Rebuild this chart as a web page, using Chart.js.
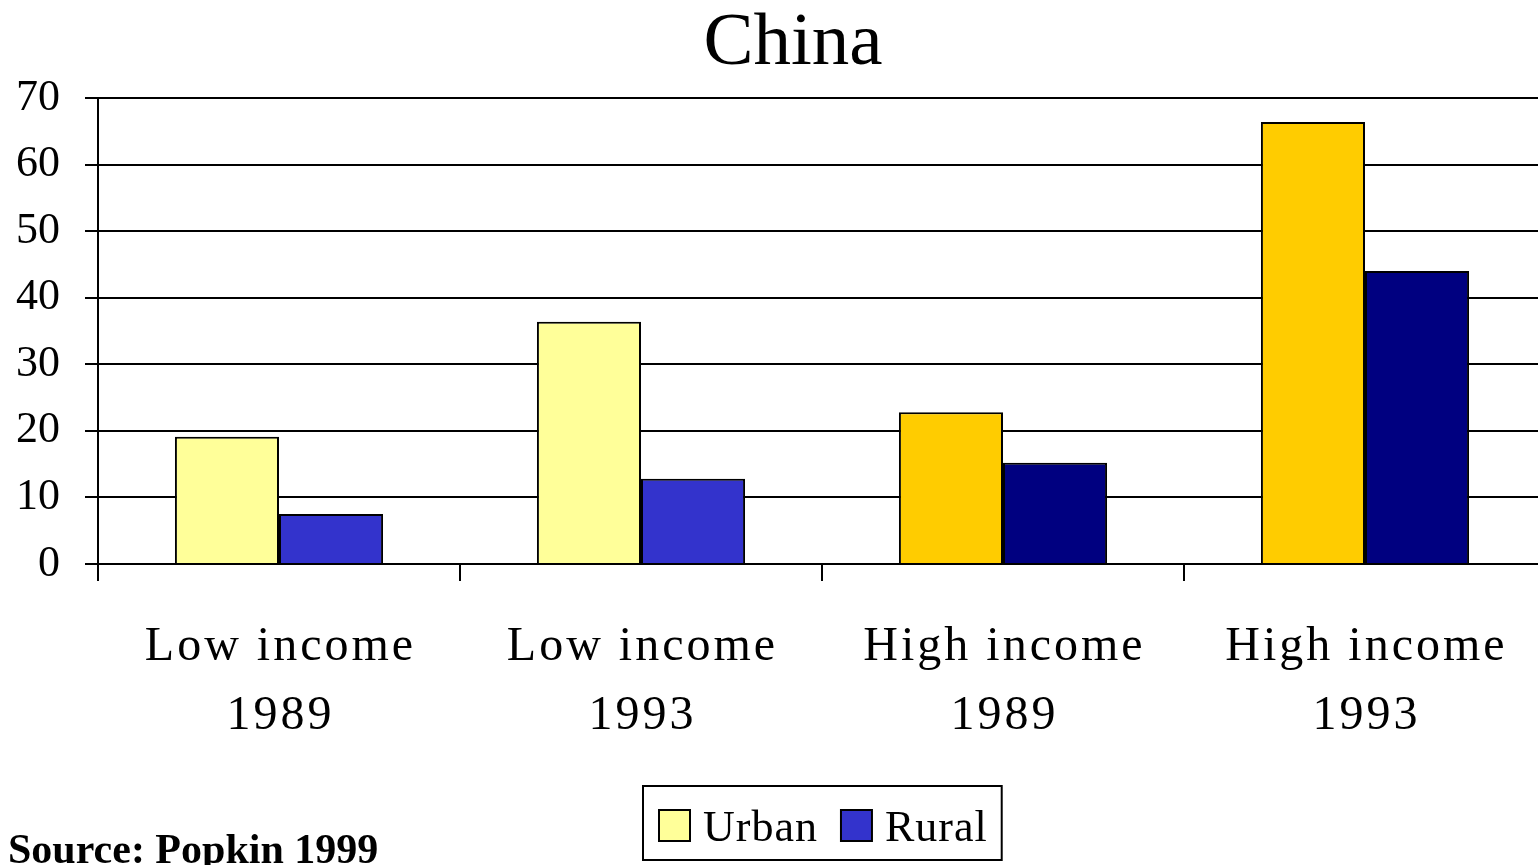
<!DOCTYPE html>
<html>
<head>
<meta charset="utf-8">
<script src="https://cdn.jsdelivr.net/npm/chart.js@4/dist/chart.umd.min.js"></script>
<style>
  html, body { margin: 0; padding: 0; background: #fff; overflow: hidden; }
  #wrap { width: 1538px; height: 865px; overflow: hidden; }
  canvas { display: block; }
</style>
</head>
<body>
<div id="wrap"><canvas id="chart" width="1546" height="865"></canvas></div>
<script>
// Categories: income group and survey year
const incomeGroups = ['Low income', 'Low income', 'High income', 'High income'];
const surveyYears = ['1989', '1993', '1989', '1993'];

// Series values (%)
const urbanValues = [19.1, 36.4, 22.8, 66.4];
const ruralValues = [7.5, 12.8, 15.2, 44.0];

// Series names and per-category fills
const seriesNames = ['Urban', 'Rural'];
const urbanColors = ['#FFFF99', '#FFFF99', '#FFCC00', '#FFCC00'];
const ruralColors = ['#3333CC', '#3333CC', '#000080', '#000080'];

// Value axis ticks
const yTicks = [0, 10, 20, 30, 40, 50, 60, 70];

const chartTitle = 'China';
const sourceNote = 'Source: Popkin 1999';

const SERIF = '"Liberation Serif", "Times New Roman", serif';
Chart.defaults.font.family = SERIF;
Chart.defaults.color = '#000';

const categoryLabels = incomeGroups.map((g, i) => [g, surveyYears[i]]);

// Title, boxed legend and source line drawn on top of the chart
const decorations = {
  id: 'decorations',
  beforeDraw(chart) {
    // wider letter spacing for the category labels
    const xs = chart.scales.x;
    if (xs && !xs._spaced) {
      const orig = xs.drawLabels.bind(xs);
      xs.drawLabels = function (area) {
        const c = this.ctx;
        c.save();
        c.letterSpacing = '3px';
        c.translate(1.5, 0);
        orig(area);
        c.restore();
      };
      xs._spaced = true;
    }
  },
  afterDraw(chart) {
    const ctx = chart.ctx;
    ctx.save();

    // title
    ctx.fillStyle = '#000';
    ctx.font = '75px ' + SERIF;
    ctx.textAlign = 'center';
    ctx.textBaseline = 'alphabetic';
    ctx.fillText(chartTitle, 793, 64);

    // legend
    ctx.font = '44px ' + SERIF;
    ctx.letterSpacing = '1px';
    ctx.textAlign = 'left';
    const items = chart.data.datasets.map((d, i) => ({
      label: d.label,
      color: i === 0 ? urbanColors[0] : ruralColors[0]
    }));
    const pad = 15, sw = 31, gapText = 13, gapItem = 23;
    const widths = items.map(it => ctx.measureText(it.label).width);
    let total = pad * 2 + gapItem * (items.length - 1);
    widths.forEach(w => { total += sw + gapText + w; });
    const boxLeft = 643;
    const boxTop = 786, boxH = 74;
    ctx.lineWidth = 2;
    ctx.strokeStyle = '#000';
    ctx.strokeRect(boxLeft, boxTop, total, boxH);
    let x = boxLeft + pad + 1;
    items.forEach((it, i) => {
      ctx.fillStyle = it.color;
      ctx.fillRect(x, 810, sw, sw);
      ctx.strokeRect(x, 810, sw, sw);
      ctx.fillStyle = '#000';
      ctx.fillText(it.label, x + sw + gapText, 841);
      x += sw + gapText + widths[i] + gapItem;
    });

    // source line
    ctx.letterSpacing = '0px';
    ctx.font = 'bold 42px ' + SERIF;
    ctx.fillText(sourceNote, 8, 863);

    ctx.restore();
  }
};

new Chart(document.getElementById('chart'), {
  type: 'bar',
  data: {
    labels: categoryLabels,
    datasets: [
      {
        label: seriesNames[0],
        data: urbanValues,
        backgroundColor: urbanColors,
        borderColor: '#000',
        borderWidth: 2,
        categoryPercentage: 0.575,
        barPercentage: 1.0
      },
      {
        label: seriesNames[1],
        data: ruralValues,
        backgroundColor: ruralColors,
        borderColor: '#000',
        borderWidth: 2,
        categoryPercentage: 0.575,
        barPercentage: 1.0
      }
    ]
  },
  options: {
    responsive: false,
    animation: false,
    events: [],
    layout: { padding: { top: 98, left: 0, right: 0, bottom: 0 } },
    plugins: {
      legend: { display: false },
      title: { display: false },
      tooltip: { enabled: false }
    },
    scales: {
      x: {
        offset: true,
        grid: {
          offset: true,
          drawOnChartArea: false,
          drawTicks: true,
          tickLength: 17,
          color: '#000',
          lineWidth: 2
        },
        border: { display: true, color: '#000', width: 2 },
        ticks: {
          font: { size: 48, lineHeight: 1.44 },
          color: '#000',
          padding: 32,
          maxRotation: 0,
          autoSkip: false
        },
        afterFit(scale) { scale.height = 301; }
      },
      y: {
        min: 0,
        max: 70,
        afterBuildTicks(scale) { scale.ticks = yTicks.map(v => ({ value: v })); },
        grid: {
          drawOnChartArea: true,
          drawTicks: true,
          tickLength: 13,
          color: '#000',
          lineWidth: 2
        },
        border: { display: true, color: '#000', width: 2 },
        ticks: {
          font: { size: 44 },
          color: '#000',
          padding: 25
        },
        afterFit(scale) { scale.width = 98; }
      }
    }
  },
  plugins: [decorations]
});
</script>
</body>
</html>
